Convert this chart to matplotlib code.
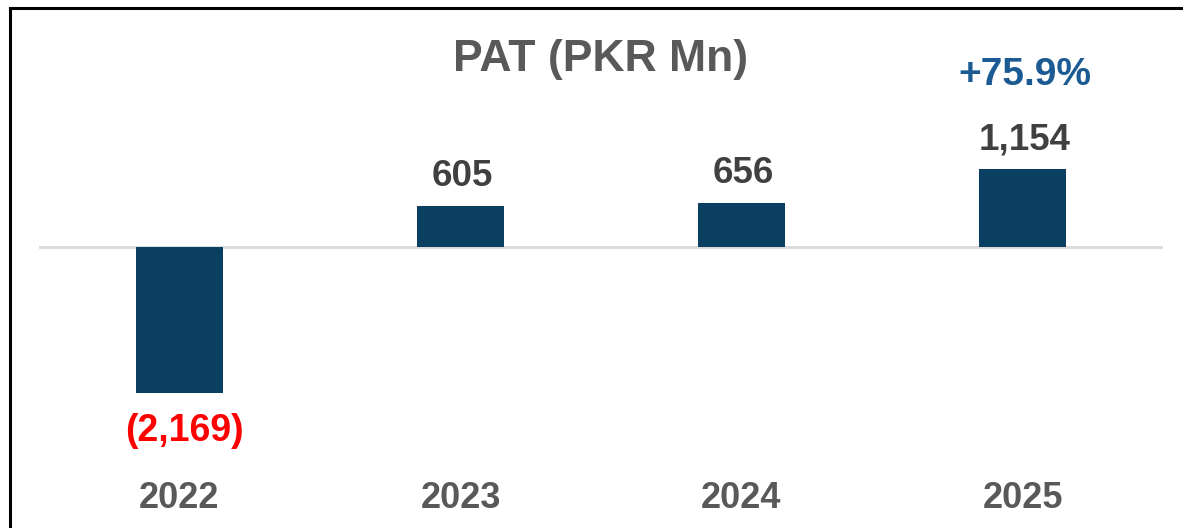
import matplotlib
matplotlib.use("Agg")
import matplotlib.pyplot as plt
from matplotlib.lines import Line2D
from matplotlib.transforms import blended_transform_factory

years = ["2022", "2023", "2024", "2025"]
pat = [-2169, 605, 656, 1154]
value_labels = ["(2,169)", "605", "656", "1,154"]
growth_label = "+75.9%"
title = "PAT (PKR Mn)"

W, H = 1183, 528
fig = plt.figure(figsize=(W / 100, H / 100), dpi=100)
plt.rcParams['font.family'] = ['Liberation Sans', 'DejaVu Sans']

ax = fig.add_axes([39 / W, 0, 1124 / W, 1])
ax.set_xlim(-0.5, 3.5)
ax.set_ylim(-4176, 3670)
ax.axis('off')

bar_color = "#0B3F61"
x = list(range(len(years)))
ax.bar(x, pat, width=0.31, color=bar_color, zorder=3)
ax.axhline(0, color="#D9D9D9", lw=2, zorder=2)

for i, (v, lab) in enumerate(zip(pat, value_labels)):
    if v >= 0:
        ax.annotate(lab, (i, v), xytext=(1.5, 14.5), textcoords='offset points',
                    ha='center', va='baseline', fontsize=26.5, fontweight='bold',
                    color="#404040")
    else:
        ax.annotate(lab, (i, v), xytext=(3.5, -34.5), textcoords='offset points',
                    ha='center', va='baseline', fontsize=27, fontweight='bold',
                    color="#FF0000")

ax.annotate(growth_label, (3, pat[3]), xytext=(1.5, 61), textcoords='offset points',
            ha='center', va='baseline', fontsize=28, fontweight='bold',
            color="#1B5A92")

tr = blended_transform_factory(ax.transData, fig.transFigure)
for i, y in enumerate(years):
    ax.text(i, 1 - 508 / H, y, transform=tr, ha='center', va='baseline',
            fontsize=26, fontweight='bold', color="#595959")

fig.text(601 / W, 1 - 71 / H, title, ha='center', va='baseline',
         fontsize=32, fontweight='bold', color="#595959")

# border (left and top)
fig.add_artist(Line2D([9.5 / W, 9.5 / W], [0, 1 - 7.5 / H], color='black', lw=2.2,
                      transform=fig.transFigure))
fig.add_artist(Line2D([9.5 / W, 1], [1 - 7.5 / H, 1 - 7.5 / H], color='black', lw=2.2,
                      transform=fig.transFigure))

fig.savefig("out.png", dpi=100, facecolor='white')
